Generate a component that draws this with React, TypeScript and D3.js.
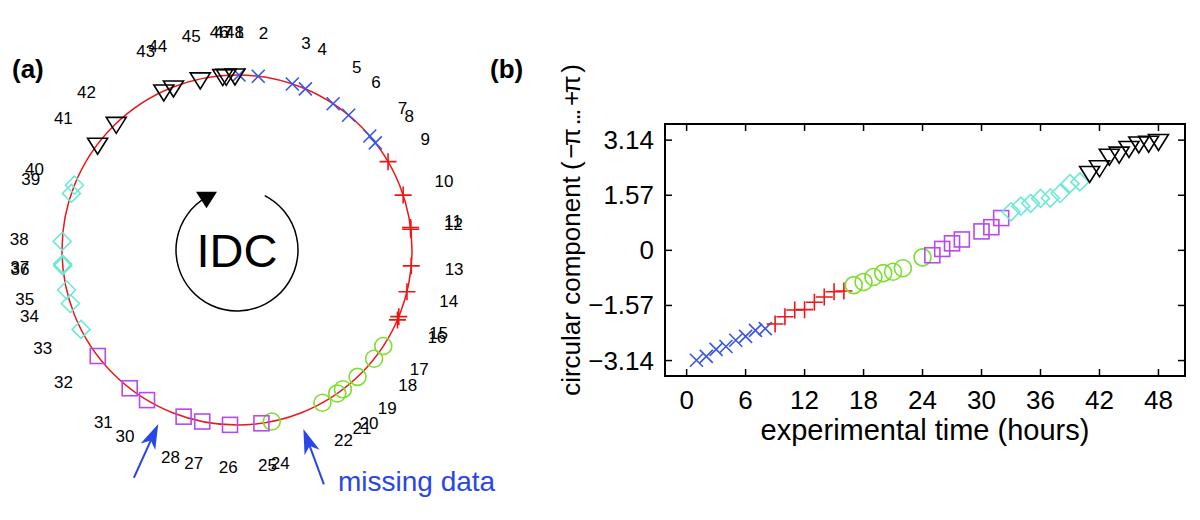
import { path, pointRadial, scaleLinear } from 'd3';

// sampled hours (23 and 29 are missing) and the circular component read per hour
const hours = [
  1, 2, 3, 4, 5, 6, 7, 8,
  9, 10, 11, 12, 13, 14, 15, 16,
  17, 18, 19, 20, 21, 22, 24,
  25, 26, 27, 28, 30, 31, 32,
  33, 34, 35, 36, 37, 38, 39, 40,
  41, 42, 43, 44, 45, 46, 47, 48,
];
const phases = [
  -3.13, -3.02, -2.82, -2.74, -2.56, -2.45, -2.28, -2.23,
  -2.1, -1.89, -1.7, -1.69, -1.48, -1.33, -1.18, -1.16,
  -0.99, -0.9, -0.76, -0.65, -0.61, -0.51, -0.2,
  -0.14, 0.04, 0.2, 0.31, 0.54, 0.66, 0.92,
  1.1, 1.26, 1.34, 1.48, 1.49, 1.62, 1.9, 1.95,
  2.22, 2.38, 2.71, 2.77, 2.93, 3.06, 3.08, 3.13,
];
const missingHours = [23, 29];
const stageEnds = [8, 16, 24, 32, 40, 48];
const xTicks = [0, 6, 12, 18, 24, 30, 36, 42, 48];
const yTicks = [-3.14, -1.57, 0, 1.57, 3.14];
const yTickLabels = ['−3.14', '−1.57', '0', '1.57', '3.14'];

type MarkerKind = 'x' | 'plus' | 'circle' | 'square' | 'diamond' | 'triangle';

const stageStyle: { marker: MarkerKind; color: string }[] = [
  { marker: 'x', color: '#3a55e6' },
  { marker: 'plus', color: '#ee1515' },
  { marker: 'circle', color: '#7edd2e' },
  { marker: 'square', color: '#b64aec' },
  { marker: 'diamond', color: '#6fe8d6' },
  { marker: 'triangle', color: '#000000' },
];

const width = 1200;
const height = 520;
const font = '"Liberation Sans", Arial, Helvetica, sans-serif';
const ring = { cx: 237, cy: 250, r: 175, labelR: 218 };
const plot = { left: 665, right: 1185, top: 124, bottom: 376 };
const blue = '#2947e6';

const toRad = (deg: number) => (deg * Math.PI) / 180;

function stageOf(hour: number) {
  return stageEnds.findIndex(end => hour <= end);
}

function Marker({ kind, x, y, color }: { kind: MarkerKind; x: number; y: number; color: string }) {
  const common = { fill: 'none', stroke: color, strokeWidth: 1.6 };
  switch (kind) {
    case 'x':
      return <path d={`M${x - 6.5},${y - 6.5}L${x + 6.5},${y + 6.5}M${x - 6.5},${y + 6.5}L${x + 6.5},${y - 6.5}`} {...common} />;
    case 'plus':
      return <path d={`M${x - 8.5},${y}H${x + 8.5}M${x},${y - 8.5}V${y + 8.5}`} {...common} />;
    case 'circle':
      return <circle cx={x} cy={y} r={8.5} {...common} />;
    case 'square':
      return <rect x={x - 7.5} y={y - 7.5} width={15} height={15} {...common} />;
    case 'diamond':
      return <path d={`M${x},${y - 9}L${x + 9},${y}L${x},${y + 9}L${x - 9},${y}Z`} {...common} />;
    default:
      return <path d={`M${x - 10},${y - 6}L${x + 10},${y - 6}L${x},${y + 10}Z`} {...common} />;
  }
}

function CirclePanel() {
  // phase -π sits at 12 o'clock, running clockwise
  const angle = scaleLinear().domain([-Math.PI, Math.PI]).range([0, 2 * Math.PI]);
  const at = (phi: number, r: number) => {
    const [dx, dy] = pointRadial(angle(phi), r);
    return [ring.cx + dx, ring.cy + dy];
  };

  const cycleR = 61;
  const a0 = toRad(27) - Math.PI / 2;
  const a1 = toRad(330) - Math.PI / 2;
  const cyclePath = path();
  cyclePath.moveTo(ring.cx + cycleR * Math.cos(a0), ring.cy + cycleR * Math.sin(a0));
  cyclePath.arc(ring.cx, ring.cy, cycleR, a0, a1, false);
  const [hx, hy] = [ring.cx + cycleR * Math.cos(a1), ring.cy + cycleR * Math.sin(a1)];

  const arrows = missingHours.map(hour => {
    const i = hours.findIndex(h => h > hour);
    const phi = (phases[i - 1] + phases[i]) / 2;
    const [tx, ty] = at(phi, 250);
    const [px, py] = at(phi, 191);
    const len = Math.hypot(px - tx, py - ty);
    const ux = (px - tx) / len;
    const uy = (py - ty) / len;
    const head = `M${px},${py}L${px - 25 * ux + 8 * uy},${py - 25 * uy - 8 * ux}L${px - 18 * ux},${py - 18 * uy}L${px - 25 * ux - 8 * uy},${py - 25 * uy + 8 * ux}Z`;
    return { hour, tx, ty, bx: px - 18 * ux, by: py - 18 * uy, head };
  });

  return (
    <g fontFamily={font}>
      <text x={12} y={78} fontSize={26} fontWeight="bold">(a)</text>
      <circle cx={ring.cx} cy={ring.cy} r={ring.r} fill="none" stroke="#e81818" strokeWidth={1.5} />

      <path d={cyclePath.toString()} fill="none" stroke="#000" strokeWidth={1.5} />
      <path d={`M${hx - 10.5},${hy - 5.5}L${hx + 10.5},${hy - 5.5}L${hx},${hy + 11}Z`} fill="#000" />
      <text x={ring.cx} y={ring.cy + 17} fontSize={47} textAnchor="middle">IDC</text>

      {hours.map((hour, i) => {
        const style = stageStyle[stageOf(hour)];
        const [x, y] = at(phases[i], ring.r);
        return <Marker key={hour} kind={style.marker} x={x} y={y} color={style.color} />;
      })}

      {hours.map((hour, i) => {
        const [x, y] = at(phases[i], ring.labelR);
        return (
          <text key={hour} x={x} y={y} fontSize={17} textAnchor="middle" dominantBaseline="central">
            {hour}
          </text>
        );
      })}

      {arrows.map(a => (
        <g key={a.hour}>
          <line x1={a.tx} y1={a.ty} x2={a.bx} y2={a.by} stroke={blue} strokeWidth={2} />
          <path d={a.head} fill={blue} />
        </g>
      ))}
      <text x={338} y={491} fontSize={28} fill={blue}>missing data</text>
    </g>
  );
}

function TimePanel() {
  const x = scaleLinear().domain([-2.2, 50.7]).range([plot.left, plot.right]);
  const y = scaleLinear().domain([-3.58, 3.6]).range([plot.bottom, plot.top]);
  const tick = 7;

  return (
    <g fontFamily={font}>
      <text x={490} y={78} fontSize={26} fontWeight="bold">(b)</text>

      {xTicks.map(t => (
        <g key={`x${t}`}>
          <line x1={x(t)} x2={x(t)} y1={plot.bottom} y2={plot.bottom - tick} stroke="#000" strokeWidth={1.5} />
          <line x1={x(t)} x2={x(t)} y1={plot.top} y2={plot.top + tick} stroke="#000" strokeWidth={1.5} />
          <text x={x(t)} y={plot.bottom + 33} fontSize={26} textAnchor="middle">{t}</text>
        </g>
      ))}
      {yTicks.map((t, i) => (
        <g key={`y${t}`}>
          <line x1={plot.left} x2={plot.left + tick} y1={y(t)} y2={y(t)} stroke="#000" strokeWidth={1.5} />
          <line x1={plot.right} x2={plot.right - tick} y1={y(t)} y2={y(t)} stroke="#000" strokeWidth={1.5} />
          <text x={plot.left - 11} y={y(t)} fontSize={26} textAnchor="end" dominantBaseline="central">
            {yTickLabels[i]}
          </text>
        </g>
      ))}

      {hours.map((hour, i) => {
        const style = stageStyle[stageOf(hour)];
        return <Marker key={hour} kind={style.marker} x={x(hour)} y={y(phases[i])} color={style.color} />;
      })}

      <rect x={plot.left} y={plot.top} width={plot.right - plot.left} height={plot.bottom - plot.top} fill="none" stroke="#000" strokeWidth={2} />

      <text x={(plot.left + plot.right) / 2} y={plot.bottom + 64} fontSize={29} textAnchor="middle">
        experimental time (hours)
      </text>
      <g transform="translate(580, 0) rotate(-90)">
        <text x={-286} y={0} fontSize={26} textAnchor="middle">circular component</text>
        <text
          x={-117}
          y={0}
          fontSize={26}
          textAnchor="middle"
          textLength={106}
          lengthAdjust="spacing"
          style={{ whiteSpace: 'pre' }}
        >
          {'( −π ... +π )'}
        </text>
      </g>
    </g>
  );
}

export default function App() {
  return (
    <svg
      width={width}
      height={height}
      viewBox={`0 0 ${width} ${height}`}
      style={{ position: 'absolute', left: 0, top: 0, background: '#fff' }}
    >
      <rect width={width} height={height} fill="#fff" />
      <CirclePanel />
      <TimePanel />
    </svg>
  );
}
